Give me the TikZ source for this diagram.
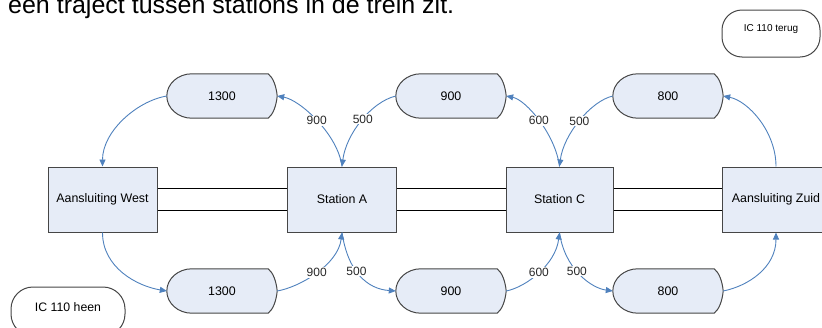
\documentclass[tikz,border=0pt]{standalone}
\usepackage{fontspec}
\setmainfont{Liberation Sans}
\usetikzlibrary{arrows.meta,backgrounds,calc}
\definecolor{boxfill}{RGB}{230,236,247}
\definecolor{boxline}{RGB}{70,70,70}
\definecolor{arrowblue}{RGB}{79,129,189}
\definecolor{labeltext}{RGB}{40,40,40}
\newcommand\dispshape[1]{%
  \path[dispoutline] ($(#1.north west)+(25,0)$) -- ($(#1.north east)+(-9,0)$)
    .. controls +(5,4) and +(-1,-10) .. (#1.east)
    .. controls +(-1,10) and +(5,-4) .. ($(#1.south east)+(-9,0)$)
    -- ($(#1.south west)+(25,0)$)
    .. controls +(-13.8,0) and +(0,12.1) .. (#1.west)
    .. controls +(0,-12.1) and +(-13.8,0) .. ($(#1.north west)+(25,0)$) -- cycle;}
\begin{document}
\begin{tikzpicture}[x=1pt,y=-1pt,
  stationbox/.style={draw=boxline, fill=boxfill, line width=1pt, minimum width=109pt,
    minimum height=65pt, inner sep=0pt, font=\fontsize{12.4}{14}\selectfont},
  dispnode/.style={minimum width=110pt, minimum height=44pt, inner sep=0pt,
    font=\fontsize{12.4}{14}\selectfont},
  dispoutline/.style={draw=boxline, fill=boxfill, line width=1pt},
  flow/.style={draw=arrowblue, line width=0.9pt, -{Triangle[length=7pt,width=6pt]}},
  lbl/.style={fill=white, inner sep=1pt, font=\fontsize{12}{14}\selectfont, text=labeltext},
  rail/.style={draw=black, line width=1pt},
  legend/.style={draw=boxline, line width=1pt, fill=white}
]
\useasboundingbox (0,0) rectangle (822,327);
\clip (0,0) rectangle (822,327);

\node[anchor=base west, inner sep=0pt, font=\fontsize{25}{30}\selectfont] (title) at (8,13)
  {een traject tussen stations in de trein zit.};

% stations
\node[stationbox] (west) at (102.5,199.5) {Aansluiting West};
\node[stationbox] (stA) at (342,199.5) {Station A};
\node[stationbox, minimum width=107pt] (stC) at (559.5,199.5) {Station C};
\node[stationbox, minimum width=108pt] (zuid) at (776,199.5) {Aansluiting Zuid};

% display shapes
\node[dispnode] (t1300) at (222,96) {1300};
\node[dispnode] (t900) at (451,96) {900};
\node[dispnode] (t800) at (668,96) {800};
\node[dispnode] (b1300) at (222,291) {1300};
\node[dispnode] (b900) at (451,291) {900};
\node[dispnode] (b800) at (668,291) {800};
\begin{scope}[on background layer]
  \dispshape{t1300}\dispshape{t900}\dispshape{t800}
  \dispshape{b1300}\dispshape{b900}\dispshape{b800}
\end{scope}

% rails
\draw[rail] ([yshift=11pt]west.east) -- ([yshift=11pt]stA.west);
\draw[rail] ([yshift=-11pt]west.east) -- ([yshift=-11pt]stA.west);
\draw[rail] ([yshift=11pt]stA.east) -- ([yshift=11pt]stC.west);
\draw[rail] ([yshift=-11pt]stA.east) -- ([yshift=-11pt]stC.west);
\draw[rail] ([yshift=11pt]stC.east) -- ([yshift=11pt]zuid.west);
\draw[rail] ([yshift=-11pt]stC.east) -- ([yshift=-11pt]zuid.west);

% top flows (terug)
\draw[flow] (t1300.west) .. controls +(-30,5) and +(0,-35) .. (west.north);
\draw[flow] (stA.north) .. controls +(-4,-32) and +(23,4) .. (t1300.east) node[lbl,pos=0.5] {900};
\draw[flow] (t900.west) .. controls +(-25,6) and +(4,-32) .. (stA.north) node[lbl,pos=0.47] {500};
\draw[flow] (stC.north) .. controls +(-4,-32) and +(20,4) .. (t900.east) node[lbl,pos=0.5] {600};
\draw[flow] (t800.west) .. controls +(-22,5) and +(4,-32) .. (stC.north) node[lbl,pos=0.5] {500};
\draw[flow] (zuid.north) .. controls +(0,-35) and +(25,5) .. (t800.east);

% bottom flows (heen)
\draw[flow] (west.south) .. controls +(0,35) and +(-30,-5) .. (b1300.west);
\draw[flow] (b1300.east) .. controls +(23,-4) and +(-4,32) .. (stA.south) node[lbl,pos=0.5] {900};
\draw[flow] (stA.south) .. controls +(6,40) and +(-28,-2) .. (b900.west) node[lbl,pos=0.42] {500};
\draw[flow] (b900.east) .. controls +(20,-4) and +(-4,32) .. (stC.south) node[lbl,pos=0.5] {600};
\draw[flow] (stC.south) .. controls +(5,36) and +(-22,-3) .. (b800.west) node[lbl,pos=0.45] {500};
\draw[flow] (b800.east) .. controls +(25,-5) and +(0,35) .. (zuid.south);

% legends
\node[legend, rounded corners=20pt, minimum width=98pt, minimum height=47pt,
  font=\fontsize{10}{12}\selectfont, text height=7pt, text depth=11pt] (terug) at (771,33.5) {IC 110 terug};
\node[legend, rounded corners=22pt, minimum width=114pt, minimum height=49pt,
  font=\fontsize{12.3}{14}\selectfont, text height=9pt, text depth=9pt] (heen) at (68,311.5) {IC 110 heen};
\end{tikzpicture}
\end{document}
